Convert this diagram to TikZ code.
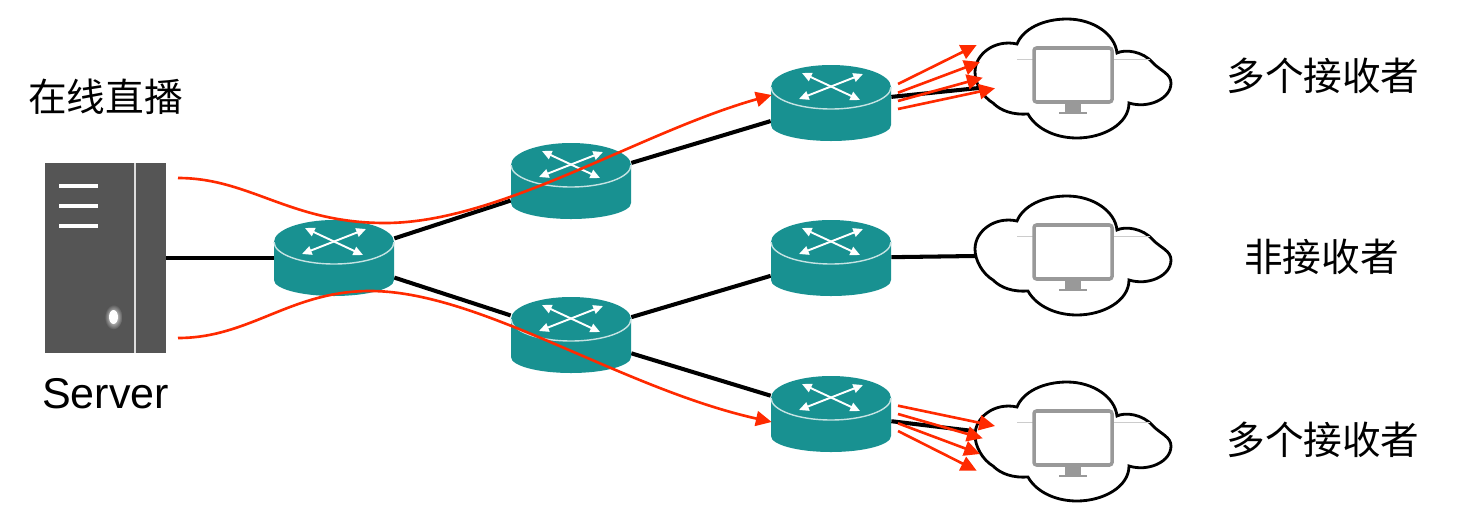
\documentclass[tikz,border=0pt]{standalone}
\usepackage{fontspec}
\setmainfont{Liberation Sans}
\newfontfamily\cjk{Noto Sans CJK SC}
\usetikzlibrary{arrows, arrows.meta}
\definecolor{routerteal}{HTML}{189191}
\definecolor{servergray}{HTML}{555555}
\definecolor{screengray}{HTML}{999999}
\definecolor{flowred}{HTML}{FF2A00}
\tikzset{
  routerbox/.style={inner sep=0pt, minimum width=2.4cm, minimum height=1.52cm},
  cloudbox/.style={inner sep=0pt, minimum width=3.9cm, minimum height=2.4cm},
  link/.style={black, line width=2.3pt},
  flow/.style={flowred, line width=1.5pt},
  flowtip/.style={flow, -{Triangle[length=9pt, width=8.5pt]}},
  crossarrow/.style={white, line width=1.1pt, {Triangle[length=5.5pt, width=5pt]}-{Triangle[length=5.5pt, width=5pt]}},
  cjklabel/.style={inner sep=0pt, font=\cjk\fontsize{22}{24}\selectfont}
}
\newcommand{\drawrouter}[1]{
\begin{scope}[shift={(#1)}]
\fill [routerteal] (-60,16) -- (-60,-22) arc (180:360:60 and 16) -- (60,16) arc (0:180:60 and 22) -- cycle;
\fill [routerteal] (-60,16) arc (180:360:60 and 22) -- cycle;
\draw [white!75!routerteal, line width=0.8pt] (-60,16) arc (180:360:60 and 22);
\draw [crossarrow] (-29,30) -- (29,3);
\draw [crossarrow] (32,29) -- (-32,4);
\end{scope}
}
\newcommand{\drawcloud}[1]{
\begin{scope}[shift={(#1)}]
\draw [black, line width=1.6pt, fill=white] (-56,35) .. controls (-50,50) and (-30,60) .. (-6,60)
 .. controls (20,60) and (42,45) .. (44,26) .. controls (52,30) and (70,28) .. (80,16)
 .. controls (88,8) and (98,5) .. (98,-4) .. controls (98,-20) and (75,-30) .. (56,-24)
 .. controls (56,-45) and (30,-59) .. (4,-59) .. controls (-20,-59) and (-38,-48) .. (-45,-35)
 .. controls (-60,-36) and (-72,-32) .. (-80,-24) .. controls (-90,-18) and (-98,-5) .. (-98,7)
 .. controls (-98,25) and (-78,40) .. (-56,35) -- cycle;
\draw [black!20, line width=0.4pt] (-56,20) -- (-40,20);
\draw [black!20, line width=0.4pt] (39,20) -- (77,20);
\draw [screengray, line width=2pt, fill=white, rounded corners=1.5pt] (-39,31) rectangle (39,-23);
\fill [screengray] (-8,-24) rectangle (8,-33);
\fill [screengray] (-14,-33) rectangle (14,-35);
\end{scope}
}
\begin{document}
\begin{tikzpicture}[x=0.02cm, y=0.02cm]
\useasboundingbox (0,0) rectangle (1472,-518);
\node [fill=servergray, inner sep=0pt, minimum width=2.42cm, minimum height=3.8cm] (server) at (105.6,-258) {};
\node [routerbox] (r0) at (334,-258) {};
\node [routerbox] (r1) at (571,-181) {};
\node [routerbox] (r2) at (571,-335) {};
\node [routerbox] (r3) at (831,-103) {};
\node [routerbox] (r4) at (831,-258) {};
\node [routerbox] (r5) at (831,-414) {};
\node [cloudbox] (c1) at (1073,-79) {};
\node [cloudbox] (c2) at (1073,-256) {};
\node [cloudbox] (c3) at (1073,-442) {};
\drawcloud{c1}
\drawcloud{c2}
\drawcloud{c3}
\coordinate (c1in) at (981.7,-87.7);
\coordinate (c2in) at (975,-256);
\coordinate (c3in) at (973.3,-431);
\draw [white!80!servergray, line width=1pt] (134.7,-163) -- (134.7,-353);
\foreach \y in {186,206,226} {
\draw [white, line width=2pt] (59,-\y) -- (98,-\y);
}
\shade [inner color=white, outer color=servergray] (113.5,-317) ellipse (9 and 12.5);
\fill [white] (113.5,-317) ellipse (4.5 and 7);
\draw [link] (server) -- (r0);
\draw [link] (r0) -- (r1);
\draw [link] (r0) -- (r2);
\draw [link] (r1) -- (r3);
\draw [link] (r2) -- (r4);
\draw [link] (r2) -- (r5);
\draw [link] (r3) -- (c1in);
\draw [link] (r4) -- (c2in);
\draw [link] (r5) -- (c3in);
\drawrouter{r0}
\drawrouter{r1}
\drawrouter{r2}
\drawrouter{r3}
\drawrouter{r4}
\drawrouter{r5}
\coordinate (up0) at (178,-178);
\coordinate (up1) at (385,-223);
\coordinate (up2) at (771.7,-95);
\coordinate (low0) at (178,-338);
\coordinate (low1) at (370,-291);
\coordinate (low2) at (771.7,-422);
\draw [flowtip] (up0) .. controls (250,-178) and (290,-223) .. (up1) .. controls (500,-223) and (640,-132) .. (up2);
\draw [flowtip] (low0) .. controls (250,-338) and (290,-291) .. (low1) .. controls (480,-291) and (620,-388) .. (low2);
\foreach \n/\sy/\ex/\ey in {a/84/976.7/45, b/92.7/980/62, c/101/982.7/77.7, d/109/995/88.3, e/405.7/995/426, f/414/982.7/438.3, g/423.3/980/454, h/431/976.7/470.7} {
\coordinate (s\n) at (898,-\sy);
\coordinate (t\n) at (\ex,-\ey);
\draw [flowtip] (s\n) -- (t\n);
}
\node [cjklabel] (title) at (105.5,-97) {在线直播};
\node [inner sep=0pt, font=\fontsize{24.5}{28}\selectfont] (serverlabel) at (105.5,-394) {Server};
\node [cjklabel] (lab1) at (1323,-76) {多个接收者};
\node [cjklabel] (lab2) at (1321.5,-257) {非接收者};
\node [cjklabel] (lab3) at (1323,-440) {多个接收者};
\end{tikzpicture}
\end{document}
